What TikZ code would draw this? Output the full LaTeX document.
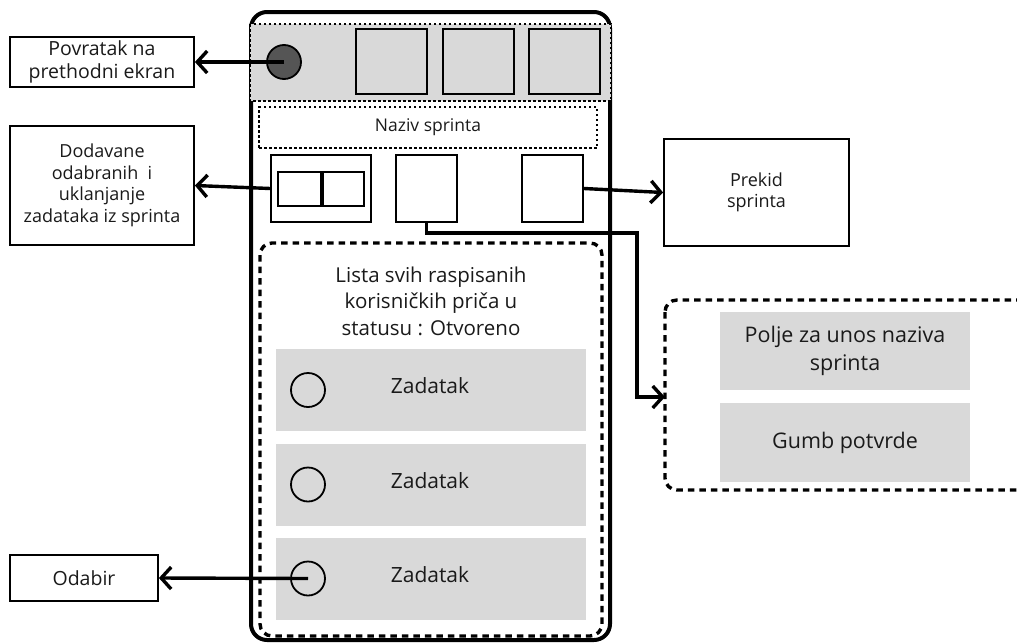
\documentclass[tikz,border=0pt]{standalone}
\usepackage{fontspec}
\setmainfont{Open Sans}
\usetikzlibrary{arrows.meta,positioning}
\definecolor{lgray}{HTML}{D9D9D9}
\definecolor{dgray}{HTML}{555555}
\definecolor{txt}{HTML}{1A1A1A}
\tikzset{
  x=1pt,y=-1pt,
  lbl/.style={draw=black,line width=1.8pt,fill=white,align=center,text=txt,inner sep=2pt},
  plain/.style={draw=black,line width=1.8pt,fill=white},
  graybtn/.style={draw=black,line width=1.8pt,fill=lgray},
  dotbox/.style={draw=black,line width=1.3pt,dash pattern=on 2.5pt off 2.5pt},
  dashbox/.style={draw=black,line width=3.4pt,dash pattern=on 6.5pt off 5pt,rounded corners=12pt},
  grayitem/.style={fill=lgray,draw=none},
  conn/.style={draw=black,line width=3.4pt,-{Straight Barb[length=10pt,width=22pt,line width=3.4pt]}},
  radio/.style={circle,draw=black,line width=1.8pt,minimum size=34pt,inner sep=0pt},
}
\begin{document}
\begin{tikzpicture}
\useasboundingbox (0,0) rectangle (1017,643);
% phone
\draw[line width=4pt,rounded corners=16pt] (251,12) rectangle (610,640);
% top bar
\fill[lgray] (250,24) rectangle (611,101);
\draw[dotbox] (250,24) rectangle (611,101);
\node[radio,fill=dgray] (back) at (284,62) {};
\node[graybtn,minimum width=71pt,minimum height=65pt] (t1) at (391.5,61.5) {};
\node[graybtn,minimum width=71pt,minimum height=65pt] (t2) at (478.5,61.5) {};
\node[graybtn,minimum width=71pt,minimum height=65pt] (t3) at (564.5,61.5) {};
% naziv
\node[dotbox,minimum width=338pt,minimum height=41pt,font=\fontsize{17.5}{20}\selectfont,text=txt] (naziv) at (428,127.5) {Naziv sprinta};
% button group
\node[plain,minimum width=100pt,minimum height=67pt] (grp) at (321,188.5) {};
\node[plain,minimum width=43pt,minimum height=34pt] (g1) at (299.5,189) {};
\node[plain,minimum width=43pt,minimum height=34pt] (g2) at (342.5,189) {};
\draw[line width=3.4pt] (g1.north east) -- (g1.south east);
\node[plain,minimum width=61pt,minimum height=67pt] (sq2) at (426.5,188.5) {};
\node[plain,minimum width=61pt,minimum height=67pt] (sq3) at (552.5,188.5) {};
% list
\draw[dashbox] (260,243) rectangle (602,636);
\node[align=center,text=txt,font=\fontsize{20.5}{26.5}\selectfont] (title) at (431,301) {Lista svih raspisanih\\korisničkih priča u\\statusu : Otvoreno};
\foreach \i/\y in {1/390,2/484.5,3/578.5}{
  \node[grayitem,minimum width=310pt,minimum height=82pt] (z\i) at (431,\y) {};
  \node[radio] (r\i) at (308,\y) {};
  \node[text=txt,font=\fontsize{21}{25}\selectfont] (zt\i) at (430,\y-4) {Zadatak};
}
% settings panel
\draw[dashbox] (665,300) rectangle (1030,490);
\coordinate (setw) at (665,397);
\node[grayitem,minimum width=250pt,minimum height=78pt,align=center,text=txt,font=\fontsize{21.5}{28}\selectfont] (polje) at (845,351) {Polje za unos naziva\\sprinta};
\node[grayitem,minimum width=250pt,minimum height=79pt,text=txt,font=\fontsize{21.5}{26}\selectfont] (gumb) at (845,442.5) {\raisebox{4pt}{Gumb potvrde}};
% labels
\node[lbl,minimum width=184pt,minimum height=50pt,font=\fontsize{19.5}{23}\selectfont] (povr) at (102,62) {Povratak na\\prethodni ekran};
\node[lbl,minimum width=184pt,minimum height=119pt,font=\fontsize{18}{21.5}\selectfont] (dodav) at (102,185.5) {Dodavane\\odabranih\ \ i\\uklanjanje\\zadataka iz sprinta};
\node[lbl,minimum width=185pt,minimum height=107pt,font=\fontsize{18}{21}\selectfont] (prekid) at (756.5,192.5) {Prekid\\sprinta};
\node[lbl,minimum width=148pt,minimum height=46pt,font=\fontsize{19.5}{22}\selectfont] (odabir) at (84,578) {Odabir};
% connectors
\draw[conn] (back.center) -- (povr.east);
\draw[conn] (grp.west) -- (dodav.east);
\draw[conn] (sq3.east) -- (prekid.west);
\draw[conn] (r3.center) -- (odabir.east);
\coordinate (bend) at (637,233);
\draw[conn] (sq2.south) |- (bend) |- (setw);
\end{tikzpicture}
\end{document}
